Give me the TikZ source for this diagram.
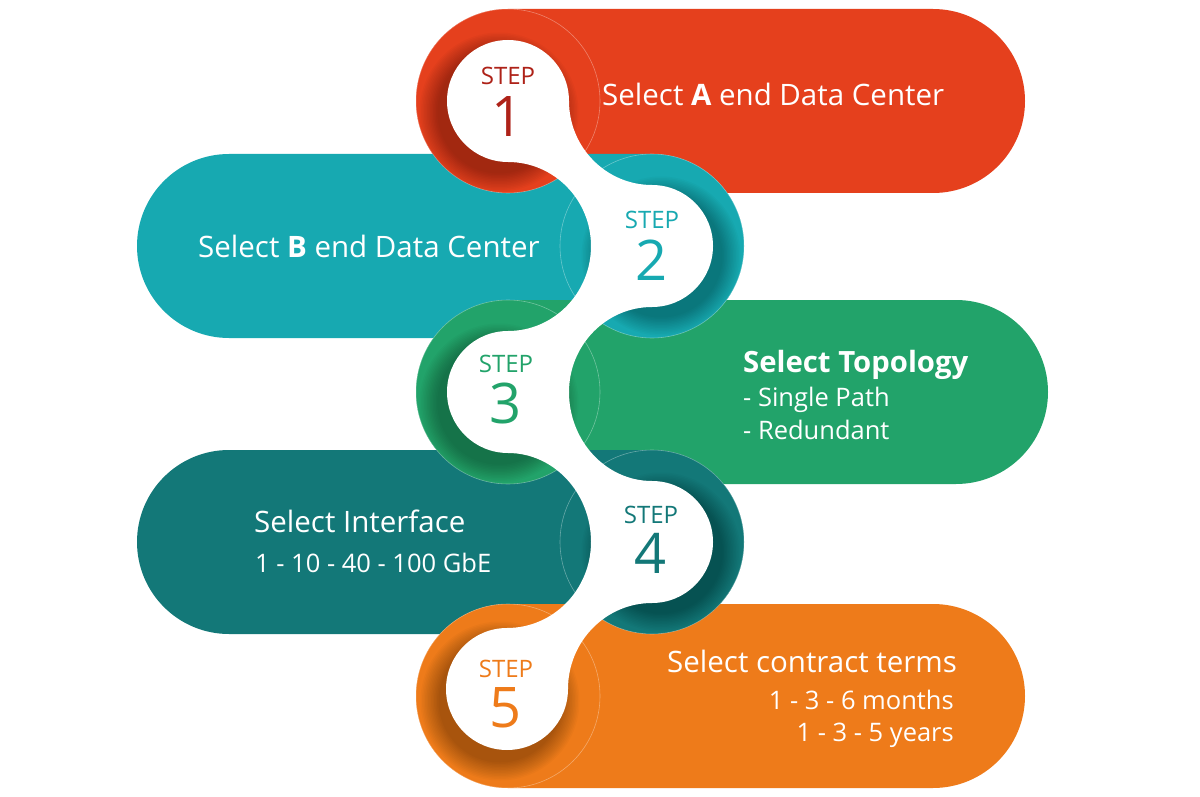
\documentclass[tikz,border=0pt]{standalone}
\usepackage{fontspec}
\setmainfont{Open Sans}
\definecolor{cred}{HTML}{E5401D}
\definecolor{cteal}{HTML}{17A9B1}
\definecolor{cgreen}{HTML}{22A36A}
\definecolor{cdteal}{HTML}{137878}
\definecolor{corange}{HTML}{EE7B1A}
\definecolor{cstepred}{HTML}{AE2218}
\begin{document}
\begin{tikzpicture}[x=1pt,y=-1pt,
  pill/.style={rounded corners=92pt},
  seam/.style={draw=white, draw opacity=0.35, line width=0.6pt},
  shadowfill/.style={black, opacity=0.024},
  lbl/.style={text=white, inner sep=0pt, font=\fontsize{29.5}{30}\selectfont},
  sublbl/.style={text=white, inner sep=0pt, font=\fontsize{25.5}{26}\selectfont},
  steplbl/.style={inner sep=0pt, anchor=base, font=\fontsize{24}{24}\selectfont},
  numlbl/.style={inner sep=0pt, anchor=base, font=\fontsize{56}{56}\selectfont},
]
\fill[white] (0,0) rectangle (1200,797);
\useasboundingbox (0,0) rectangle (1200,797);
% pill bodies
\fill[cred, pill] (416,9) rectangle (1025,193);
\fill[cteal, pill] (137,154) rectangle (744,338);
\fill[cgreen, pill] (416,300) rectangle (1048,484);
\fill[cdteal, pill] (137,450) rectangle (744,634);
\fill[corange, pill] (416,604) rectangle (1025,788);
% ring ends on top
\fill[cred] (508,101) circle (92);
\fill[cteal] (652,246) circle (92);
\fill[cgreen] (508,392) circle (92);
\fill[cdteal] (652,542) circle (92);
\fill[corange] (508,696) circle (92);
\path[seam] (508,101) circle (92);
\path[seam] (652,246) circle (92);
\path[seam] (508,392) circle (92);
\path[seam] (652,542) circle (92);
\path[seam] (508,696) circle (92);
% shadows
\begin{scope}
\clip (508,101) circle (92);
\foreach \k in {1,...,13} \fill[shadowfill] (499,112) circle ({60+1.5*\k});
\end{scope}
\begin{scope}
\clip (652,246) circle (92);
\foreach \k in {1,...,13} \fill[shadowfill] (661,256) circle ({60+1.5*\k});
\end{scope}
\begin{scope}
\clip (508,392) circle (92);
\foreach \k in {1,...,13} \fill[shadowfill] (499,403) circle ({60+1.5*\k});
\end{scope}
\begin{scope}
\clip (652,542) circle (92);
\foreach \k in {1,...,13} \fill[shadowfill] (661,552) circle ({60+1.5*\k});
\end{scope}
\begin{scope}
\clip (508,696) circle (92);
\foreach \k in {1,...,13} \fill[shadowfill] (500,701) circle ({60+1.5*\k});
\end{scope}
% white circles
\fill[white] (508,101) circle (61);
\fill[white] (652,246) circle (61);
\fill[white] (508,392) circle (61);
\fill[white] (652,542) circle (61);
\fill[white] (507,689) circle (61);
% white necks
\fill[white] (569,101) arc[start angle=180, end angle=90, x radius=83, y radius=84]
  -- (591,246) arc[start angle=0, end angle=-90, x radius=83, y radius=84] -- cycle;
\fill[white] (591,246) arc[start angle=0, end angle=90, x radius=83, y radius=85]
  -- (569,392) arc[start angle=180, end angle=270, x radius=83, y radius=85] -- cycle;
\fill[white] (569,392) arc[start angle=180, end angle=90, x radius=83, y radius=89]
  -- (591,542) arc[start angle=0, end angle=-90, x radius=83, y radius=89] -- cycle;
\fill[white] (591,542) arc[start angle=0, end angle=90, x radius=84, y radius=86]
  -- (568,689) arc[start angle=180, end angle=270, x radius=84, y radius=86] -- cycle;
% step labels
\node[steplbl, text=cstepred] (s1) at (508,85) {STEP};
\node[numlbl, text=cstepred] (n1) at (508,137) {1};
\node[steplbl, text=cteal] (s2) at (652,228) {STEP};
\node[numlbl, text=cteal] (n2) at (652,280) {2};
\node[steplbl, text=cgreen] (s3) at (506,372) {STEP};
\node[numlbl, text=cgreen] (n3) at (506,423) {3};
\node[steplbl, text=cdteal] (s4) at (651,523) {STEP};
\node[numlbl, text=cdteal] (n4) at (651,573) {4};
\node[steplbl, text=corange] (s5) at (506,677) {STEP};
\node[numlbl, text=corange] (n5) at (506,727) {5};
% pill texts
\node[lbl, anchor=base west] (ta) at (602,106) {Select \textbf{A} end Data Center};
\node[lbl, anchor=base west] (tb) at (198,257) {Select \textbf{B} end Data Center};
\node[lbl, anchor=base west, font=\fontsize{29.3}{30}\selectfont\bfseries] (tt) at (743,372) {Select Topology};
\node[sublbl, anchor=base west] (tt1) at (743,406) {- Single Path};
\node[sublbl, anchor=base west] (tt2) at (743,439) {- Redundant};
\node[lbl, anchor=base west] (ti) at (254,532) {Select Interface};
\node[sublbl, anchor=base west] (ti1) at (255,572) {1 - 10 - 40 - 100 GbE};
\node[lbl, anchor=base west] (tc) at (667,672) {Select contract terms};
\node[sublbl, anchor=base east] (tc1) at (954,709) {1 - 3 - 6 months};
\node[sublbl, anchor=base east] (tc2) at (954,741) {1 - 3 - 5 years};
\end{tikzpicture}
\end{document}
